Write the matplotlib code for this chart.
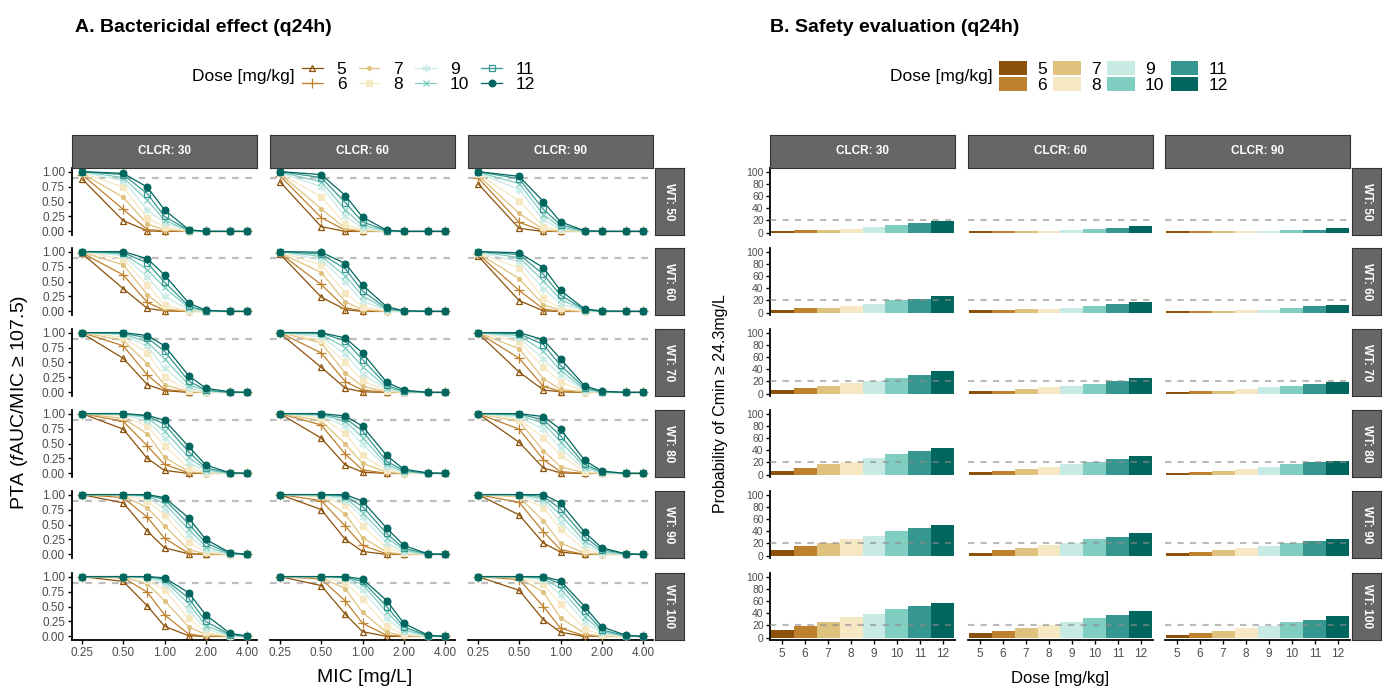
import matplotlib
matplotlib.use('Agg')
import matplotlib.pyplot as plt
from matplotlib.patches import Patch
from matplotlib.lines import Line2D

plt.rcParams['font.family'] = ['Liberation Sans', 'DejaVu Sans']
plt.rcParams['mathtext.fontset'] = 'custom'
plt.rcParams['mathtext.rm'] = 'Liberation Sans'
plt.rcParams['mathtext.it'] = 'Liberation Sans:italic'


### Data

doses = [5, 6, 7, 8, 9, 10, 11, 12]
mics = [0.25, 0.5, 0.75, 1.0, 1.5, 2.0, 3.0, 4.0]
clcr_levels = [30, 60, 90]
wt_levels = [50, 60, 70, 80, 90, 100]

# PTA for each WT: [CLCR 30, CLCR 60, CLCR 90], each one row per dose (5..12) over the MICs
pta_wt50 = [
   [[0.88, 0.18, 0.01, 0, 0, 0, 0, 0],
    [0.95, 0.37, 0.03, 0.01, 0, 0, 0, 0],
    [0.97, 0.57, 0.12, 0.03, 0, 0, 0, 0],
    [0.98, 0.74, 0.22, 0.08, 0, 0, 0, 0],
    [0.99, 0.85, 0.36, 0.14, 0.01, 0, 0, 0],
    [1.0, 0.90, 0.52, 0.19, 0.01, 0, 0, 0],
    [1.0, 0.95, 0.63, 0.25, 0.02, 0, 0, 0],
    [1.0, 0.97, 0.74, 0.36, 0.03, 0, 0, 0]],
   [[0.83, 0.08, 0, 0, 0, 0, 0, 0],
    [0.93, 0.23, 0.02, 0, 0, 0, 0, 0],
    [0.96, 0.38, 0.05, 0.01, 0, 0, 0, 0],
    [0.97, 0.58, 0.12, 0.03, 0, 0, 0, 0],
    [0.98, 0.75, 0.25, 0.06, 0, 0, 0, 0],
    [0.99, 0.83, 0.36, 0.10, 0.01, 0, 0, 0],
    [1.0, 0.90, 0.48, 0.16, 0.01, 0, 0, 0],
    [1.0, 0.95, 0.60, 0.24, 0.02, 0, 0, 0]],
   [[0.80, 0.05, 0, 0, 0, 0, 0, 0],
    [0.90, 0.15, 0.01, 0, 0, 0, 0, 0],
    [0.94, 0.30, 0.03, 0, 0, 0, 0, 0],
    [0.96, 0.51, 0.08, 0.02, 0, 0, 0, 0],
    [0.98, 0.70, 0.19, 0.04, 0, 0, 0, 0],
    [0.99, 0.80, 0.28, 0.07, 0, 0, 0, 0],
    [1.0, 0.88, 0.37, 0.11, 0.01, 0, 0, 0],
    [1.0, 0.92, 0.50, 0.16, 0.01, 0, 0, 0]]]

pta_wt60 = [
   [[0.97, 0.38, 0.05, 0.01, 0, 0, 0, 0],
    [0.98, 0.61, 0.15, 0.02, 0, 0, 0, 0],
    [0.99, 0.78, 0.28, 0.05, 0, 0, 0, 0],
    [1.0, 0.87, 0.44, 0.11, 0.01, 0, 0, 0],
    [1.0, 0.93, 0.58, 0.25, 0.03, 0, 0, 0],
    [1.0, 0.96, 0.70, 0.40, 0.06, 0.01, 0, 0],
    [1.0, 0.98, 0.81, 0.49, 0.09, 0.01, 0, 0],
    [1.0, 1.0, 0.88, 0.61, 0.14, 0.02, 0, 0]],
   [[0.96, 0.24, 0.03, 0, 0, 0, 0, 0],
    [0.97, 0.45, 0.06, 0.01, 0, 0, 0, 0],
    [0.98, 0.65, 0.16, 0.03, 0, 0, 0, 0],
    [0.99, 0.78, 0.31, 0.08, 0, 0, 0, 0],
    [1.0, 0.86, 0.49, 0.17, 0.02, 0, 0, 0],
    [1.0, 0.92, 0.59, 0.26, 0.03, 0, 0, 0],
    [1.0, 0.96, 0.71, 0.34, 0.05, 0.01, 0, 0],
    [1.0, 0.99, 0.80, 0.44, 0.08, 0.01, 0, 0]],
   [[0.93, 0.18, 0.01, 0, 0, 0, 0, 0],
    [0.96, 0.35, 0.04, 0, 0, 0, 0, 0],
    [0.97, 0.55, 0.11, 0.02, 0, 0, 0, 0],
    [0.98, 0.73, 0.22, 0.05, 0, 0, 0, 0],
    [0.99, 0.83, 0.38, 0.13, 0.01, 0, 0, 0],
    [1.0, 0.90, 0.51, 0.20, 0.02, 0, 0, 0],
    [1.0, 0.95, 0.62, 0.27, 0.03, 0, 0, 0],
    [1.0, 0.98, 0.73, 0.35, 0.04, 0.01, 0, 0]]]

pta_wt70 = [
   [[0.99, 0.57, 0.13, 0.03, 0, 0, 0, 0],
    [1.0, 0.78, 0.29, 0.05, 0.01, 0, 0, 0],
    [1.0, 0.87, 0.48, 0.13, 0.01, 0, 0, 0],
    [1.0, 0.92, 0.66, 0.26, 0.03, 0, 0, 0],
    [1.0, 0.96, 0.77, 0.41, 0.07, 0.01, 0, 0],
    [1.0, 0.98, 0.84, 0.56, 0.13, 0.03, 0, 0],
    [1.0, 0.99, 0.91, 0.69, 0.19, 0.04, 0, 0],
    [1.0, 1.0, 0.95, 0.78, 0.28, 0.07, 0.01, 0]],
   [[0.99, 0.42, 0.07, 0.01, 0, 0, 0, 0],
    [1.0, 0.66, 0.18, 0.04, 0, 0, 0, 0],
    [1.0, 0.83, 0.32, 0.10, 0.01, 0, 0, 0],
    [1.0, 0.88, 0.50, 0.20, 0.02, 0, 0, 0],
    [1.0, 0.93, 0.64, 0.31, 0.05, 0.01, 0, 0],
    [1.0, 0.97, 0.75, 0.43, 0.08, 0.01, 0, 0],
    [1.0, 0.99, 0.86, 0.55, 0.12, 0.02, 0, 0],
    [1.0, 1.0, 0.91, 0.66, 0.17, 0.04, 0, 0]],
   [[0.99, 0.34, 0.04, 0.01, 0, 0, 0, 0],
    [1.0, 0.57, 0.10, 0.02, 0, 0, 0, 0],
    [1.0, 0.73, 0.23, 0.05, 0.01, 0, 0, 0],
    [1.0, 0.85, 0.42, 0.18, 0.01, 0, 0, 0],
    [1.0, 0.91, 0.56, 0.29, 0.03, 0, 0, 0],
    [1.0, 0.95, 0.69, 0.37, 0.05, 0.01, 0, 0],
    [1.0, 0.98, 0.80, 0.45, 0.08, 0.01, 0, 0],
    [1.0, 1.0, 0.88, 0.56, 0.11, 0.02, 0, 0]]]

pta_wt80 = [
   [[1.0, 0.74, 0.25, 0.05, 0, 0, 0, 0],
    [1.0, 0.87, 0.46, 0.15, 0.01, 0, 0, 0],
    [1.0, 0.92, 0.66, 0.27, 0.03, 0, 0, 0],
    [1.0, 0.96, 0.79, 0.46, 0.09, 0.01, 0, 0],
    [1.0, 0.98, 0.87, 0.60, 0.18, 0.03, 0, 0],
    [1.0, 0.99, 0.93, 0.71, 0.27, 0.06, 0, 0],
    [1.0, 1.0, 0.96, 0.82, 0.36, 0.09, 0.01, 0],
    [1.0, 1.0, 0.97, 0.89, 0.45, 0.14, 0.01, 0]],
   [[1.0, 0.59, 0.14, 0.02, 0, 0, 0, 0],
    [1.0, 0.81, 0.32, 0.06, 0, 0, 0, 0],
    [1.0, 0.88, 0.49, 0.17, 0.02, 0, 0, 0],
    [1.0, 0.93, 0.67, 0.30, 0.05, 0, 0, 0],
    [1.0, 0.96, 0.79, 0.49, 0.10, 0.02, 0, 0],
    [1.0, 0.98, 0.87, 0.60, 0.15, 0.03, 0, 0],
    [1.0, 0.99, 0.92, 0.71, 0.20, 0.05, 0, 0],
    [1.0, 1.0, 0.96, 0.79, 0.30, 0.07, 0.01, 0]],
   [[1.0, 0.52, 0.09, 0.01, 0, 0, 0, 0],
    [1.0, 0.74, 0.23, 0.03, 0, 0, 0, 0],
    [1.0, 0.87, 0.38, 0.11, 0.01, 0, 0, 0],
    [1.0, 0.90, 0.60, 0.30, 0.03, 0, 0, 0],
    [1.0, 0.94, 0.74, 0.42, 0.07, 0.01, 0, 0],
    [1.0, 0.97, 0.84, 0.53, 0.11, 0.02, 0, 0],
    [1.0, 0.99, 0.90, 0.63, 0.15, 0.03, 0, 0],
    [1.0, 1.0, 0.95, 0.74, 0.22, 0.04, 0, 0]]]

pta_wt90 = [
   [[1.0, 0.86, 0.39, 0.11, 0.01, 0, 0, 0],
    [1.0, 0.95, 0.62, 0.27, 0.02, 0, 0, 0],
    [1.0, 0.98, 0.78, 0.48, 0.08, 0.01, 0, 0],
    [1.0, 0.99, 0.90, 0.66, 0.20, 0.04, 0, 0],
    [1.0, 1.0, 0.95, 0.76, 0.32, 0.08, 0, 0],
    [1.0, 1.0, 0.98, 0.85, 0.42, 0.13, 0.01, 0],
    [1.0, 1.0, 0.99, 0.92, 0.51, 0.19, 0.02, 0],
    [1.0, 1.0, 1.0, 0.95, 0.61, 0.25, 0.03, 0]],
   [[1.0, 0.75, 0.25, 0.05, 0, 0, 0, 0],
    [1.0, 0.90, 0.47, 0.15, 0.01, 0, 0, 0],
    [1.0, 0.97, 0.67, 0.28, 0.04, 0, 0, 0],
    [1.0, 0.98, 0.82, 0.48, 0.11, 0.02, 0, 0],
    [1.0, 0.99, 0.90, 0.62, 0.19, 0.04, 0, 0],
    [1.0, 1.0, 0.95, 0.70, 0.28, 0.07, 0, 0],
    [1.0, 1.0, 0.98, 0.80, 0.35, 0.10, 0.01, 0],
    [1.0, 1.0, 1.0, 0.89, 0.44, 0.15, 0.01, 0]],
   [[1.0, 0.66, 0.19, 0.04, 0, 0, 0, 0],
    [1.0, 0.87, 0.38, 0.08, 0, 0, 0, 0],
    [1.0, 0.96, 0.56, 0.19, 0.02, 0, 0, 0],
    [1.0, 0.98, 0.78, 0.42, 0.08, 0.01, 0, 0],
    [1.0, 0.99, 0.88, 0.55, 0.15, 0.03, 0, 0],
    [1.0, 1.0, 0.93, 0.66, 0.22, 0.05, 0, 0],
    [1.0, 1.0, 0.97, 0.76, 0.29, 0.08, 0.01, 0],
    [1.0, 1.0, 1.0, 0.86, 0.37, 0.11, 0.01, 0]]]

pta_wt100 = [
   [[1.0, 0.92, 0.51, 0.17, 0.01, 0, 0, 0],
    [1.0, 0.98, 0.74, 0.36, 0.04, 0, 0, 0],
    [1.0, 0.99, 0.88, 0.60, 0.16, 0.03, 0, 0],
    [1.0, 1.0, 0.95, 0.78, 0.30, 0.07, 0, 0],
    [1.0, 1.0, 0.98, 0.88, 0.44, 0.12, 0.01, 0],
    [1.0, 1.0, 0.99, 0.93, 0.55, 0.18, 0.02, 0],
    [1.0, 1.0, 1.0, 0.96, 0.64, 0.25, 0.03, 0],
    [1.0, 1.0, 1.0, 0.98, 0.73, 0.36, 0.05, 0.01]],
   [[1.0, 0.85, 0.37, 0.08, 0, 0, 0, 0],
    [1.0, 0.96, 0.59, 0.22, 0.02, 0, 0, 0],
    [1.0, 0.98, 0.80, 0.40, 0.07, 0.01, 0, 0],
    [1.0, 0.99, 0.90, 0.63, 0.17, 0.03, 0, 0],
    [1.0, 1.0, 0.96, 0.78, 0.30, 0.07, 0, 0],
    [1.0, 1.0, 0.98, 0.87, 0.41, 0.11, 0.01, 0],
    [1.0, 1.0, 0.99, 0.92, 0.50, 0.16, 0.01, 0],
    [1.0, 1.0, 1.0, 0.96, 0.60, 0.22, 0.02, 0]],
   [[1.0, 0.77, 0.28, 0.07, 0, 0, 0, 0],
    [1.0, 0.95, 0.50, 0.14, 0.01, 0, 0, 0],
    [1.0, 0.98, 0.74, 0.31, 0.05, 0, 0, 0],
    [1.0, 0.99, 0.87, 0.54, 0.13, 0.02, 0, 0],
    [1.0, 1.0, 0.94, 0.70, 0.24, 0.05, 0, 0],
    [1.0, 1.0, 0.97, 0.80, 0.33, 0.08, 0, 0],
    [1.0, 1.0, 0.99, 0.88, 0.42, 0.11, 0.01, 0],
    [1.0, 1.0, 1.0, 0.93, 0.50, 0.16, 0.02, 0]]]

# Probability (%) of Cmin >= 24.3 mg/L, per WT: [CLCR 30, CLCR 60, CLCR 90], one value per dose
tox_wt50 = [[3, 4, 5, 6, 9, 13, 15, 19], [2, 3, 3, 3, 4, 6, 8, 10], [2, 2, 2, 2, 3, 4, 5, 7]]
tox_wt60 = [[4, 7, 8, 11, 14, 20, 23, 27], [4, 5, 6, 6, 8, 11, 14, 18], [3, 3, 3, 4, 5, 7, 10, 13]]
tox_wt70 = [[6, 9, 12, 17, 20, 26, 31, 37], [4, 5, 7, 10, 13, 16, 21, 25], [3, 4, 5, 7, 10, 12, 16, 19]]
tox_wt80 = [[6, 11, 17, 21, 27, 34, 39, 44], [5, 6, 9, 12, 17, 20, 25, 30], [3, 5, 6, 9, 13, 17, 20, 23]]
tox_wt90 = [[9, 15, 20, 28, 32, 40, 46, 50], [5, 9, 13, 17, 21, 27, 31, 37], [4, 6, 9, 13, 16, 21, 24, 28]]
tox_wt100 = [[12, 19, 25, 33, 39, 47, 52, 56], [7, 11, 15, 20, 26, 32, 37, 43], [5, 8, 11, 16, 19, 25, 29, 35]]

pta_target = 0.9
tox_limit = 20

pta_all = [pta_wt50, pta_wt60, pta_wt70, pta_wt80, pta_wt90, pta_wt100]
tox_all = [tox_wt50, tox_wt60, tox_wt70, tox_wt80, tox_wt90, tox_wt100]


### Styles

colors = ['#8C510A', '#BF812D', '#DFC27D', '#F6E8C3', '#C7EAE5', '#80CDC1', '#35978F', '#01665E']
markers = ['^', '+', '.', 's', (6, 2, 0), 'x', 's', 'o']
marker_sizes = [4.8, 6.5, 5.5, 4.0, 5.5, 4.8, 4.8, 4.8]
open_marker = [True, False, False, False, False, False, True, False]

W, H = 1391, 693

def box(x, y, w, h):
   """Pixel box (top-left origin) to figure coordinates"""
   return [x / W, 1 - (y + h) / H, w / W, h / H]

def strip(fig, x, y, w, h, label, rotation = 0):
   sax = fig.add_axes(box(x, y, w, h))
   sax.set_facecolor('#666666')
   sax.set_xticks([])
   sax.set_yticks([])
   for s in sax.spines.values():
      s.set_color('#333333')
      s.set_linewidth(0.8)
   sax.text(0.5, 0.5, label, transform = sax.transAxes, ha = 'center', va = 'center',
            color = 'white', fontweight = 'bold', fontsize = 8.5, rotation = rotation)

tick_grey = '#4D4D4D'
row_y = [168, 248, 329, 410, 491, 573]
row_h = 67
a_x = [72, 270, 468]
b_x = [770, 968, 1165]
col_w = 185

fig = plt.figure(figsize = (W / 100, H / 100), dpi = 100)


### A. Bactericidal effect

for r in range(len(wt_levels)):
   for c in range(len(clcr_levels)):
      ax = fig.add_axes(box(a_x[c], row_y[r], col_w, row_h))
      ax.axhline(pta_target, color = '#BEBEBE', lw = 1.6, linestyle = (0, (3, 3)), zorder = 1)
      for d in range(len(doses)):
         ax.plot(mics, pta_all[r][c][d], color = colors[d], lw = 0.9, marker = markers[d],
                 markersize = marker_sizes[d], markeredgewidth = 0.9,
                 markerfacecolor = 'none' if open_marker[d] else colors[d], zorder = 2 + d)
      ax.set_xscale('log', base = 2)
      ax.set_xlim(2 ** -2.24, 2 ** 2.24)
      ax.set_ylim(-0.06, 1.06)
      ax.minorticks_off()
      ax.spines['top'].set_visible(False)
      ax.spines['right'].set_visible(False)
      ax.spines['left'].set_visible(c == 0)
      ax.spines['bottom'].set_visible(r == len(wt_levels) - 1)
      for s in ('left', 'bottom'):
         ax.spines[s].set_linewidth(1.3)
      ax.set_yticks([0, 0.25, 0.5, 0.75, 1.0])
      ax.set_xticks([0.25, 0.5, 1, 2, 4])
      if c == 0:
         ax.set_yticklabels(['0.00', '0.25', '0.50', '0.75', '1.00'])
      else:
         ax.tick_params(axis = 'y', left = False, labelleft = False)
      if r == len(wt_levels) - 1:
         ax.set_xticklabels(['0.25', '0.50', '1.00', '2.00', '4.00'])
      else:
         ax.tick_params(axis = 'x', bottom = False, labelbottom = False)
      ax.tick_params(length = 3, width = 1, color = 'black', labelcolor = tick_grey, labelsize = 8.5, pad = 2)
      ax.set_facecolor('none')
   strip(fig, 655, row_y[r], 29, row_h, 'WT: {}'.format(wt_levels[r]), rotation = 270)

for c in range(len(clcr_levels)):
   strip(fig, a_x[c], 135, col_w, 33, 'CLCR: {}'.format(clcr_levels[c]))


### B. Safety evaluation

for r in range(len(wt_levels)):
   for c in range(len(clcr_levels)):
      ax = fig.add_axes(box(b_x[c], row_y[r], col_w, row_h))
      ax.bar(doses, tox_all[r][c], width = 1.0, color = colors, edgecolor = 'none', zorder = 2)
      ax.axhline(tox_limit, color = '#8C8C8C', alpha = 0.6, lw = 1.5, linestyle = (0, (3, 3)), zorder = 3)
      ax.set_xlim(4.47, 12.53)
      ax.set_ylim(-4, 106)
      ax.spines['top'].set_visible(False)
      ax.spines['right'].set_visible(False)
      ax.spines['left'].set_visible(c == 0)
      ax.spines['bottom'].set_visible(r == len(wt_levels) - 1)
      for s in ('left', 'bottom'):
         ax.spines[s].set_linewidth(1.3)
      ax.set_yticks([0, 20, 40, 60, 80, 100])
      ax.set_xticks(doses)
      if c != 0:
         ax.tick_params(axis = 'y', left = False, labelleft = False)
      if r != len(wt_levels) - 1:
         ax.tick_params(axis = 'x', bottom = False, labelbottom = False)
      ax.tick_params(axis = 'y', length = 3, width = 1, labelcolor = tick_grey, labelsize = 7.5, pad = 1.5)
      ax.tick_params(axis = 'x', length = 3, width = 1, labelcolor = tick_grey, labelsize = 8.5, pad = 3)
      ax.set_facecolor('none')
   strip(fig, 1352, row_y[r], 29, row_h, 'WT: {}'.format(wt_levels[r]), rotation = 270)

for c in range(len(clcr_levels)):
   strip(fig, b_x[c], 135, col_w, 33, 'CLCR: {}'.format(clcr_levels[c]))


### Titles, axis labels and legends

fig.text(75 / W, 1 - 28 / H, 'A. Bactericidal effect (q24h)', fontsize = 14, fontweight = 'bold', va = 'center')
fig.text(770 / W, 1 - 28 / H, 'B. Safety evaluation (q24h)', fontsize = 14, fontweight = 'bold', va = 'center')

fig.text(20 / W, 1 - 402 / H, r'PTA ($\mathit{f}$AUC/MIC ≥ 107.5)', rotation = 90, ha = 'center', va = 'center', fontsize = 14)
fig.text(365 / W, 1 - 678 / H, 'MIC [mg/L]', ha = 'center', va = 'center', fontsize = 14)
fig.text(720 / W, 1 - 404 / H, 'Probability of Cmin ≥ 24.3mg/L', rotation = 90, ha = 'center', va = 'center', fontsize = 11.5)
fig.text(1060 / W, 1 - 678 / H, 'Dose [mg/kg]', ha = 'center', va = 'center', fontsize = 12)

fig.text(192 / W, 1 - 77 / H, 'Dose [mg/kg]', va = 'center', fontsize = 12.5)
line_handles = [Line2D([], [], color = colors[d], lw = 0.9, marker = markers[d], markersize = marker_sizes[d],
                       markeredgewidth = 0.9, markerfacecolor = 'none' if open_marker[d] else colors[d])
                for d in range(len(doses))]
fig.legend(line_handles, [str(d) for d in doses], ncol = 4, loc = 'center left',
           bbox_to_anchor = (302 / W, 1 - 77 / H), frameon = False, fontsize = 12.5,
           handlelength = 1.2, handletextpad = 0.8, columnspacing = 0.7, labelspacing = 0.0,
           borderpad = 0, borderaxespad = 0)

fig.text(890 / W, 1 - 77 / H, 'Dose [mg/kg]', va = 'center', fontsize = 12.5)
patch_handles = [Patch(facecolor = colors[d], edgecolor = 'none') for d in range(len(doses))]
fig.legend(patch_handles, [str(d) for d in doses], ncol = 4, loc = 'center left',
           bbox_to_anchor = (999 / W, 1 - 77 / H), frameon = False, fontsize = 12.5,
           handlelength = 1.6, handleheight = 0.9, handletextpad = 0.6, columnspacing = 0.35,
           labelspacing = 0.0, borderpad = 0, borderaxespad = 0)

plt.savefig('out.png', dpi = 100)
plt.close()
